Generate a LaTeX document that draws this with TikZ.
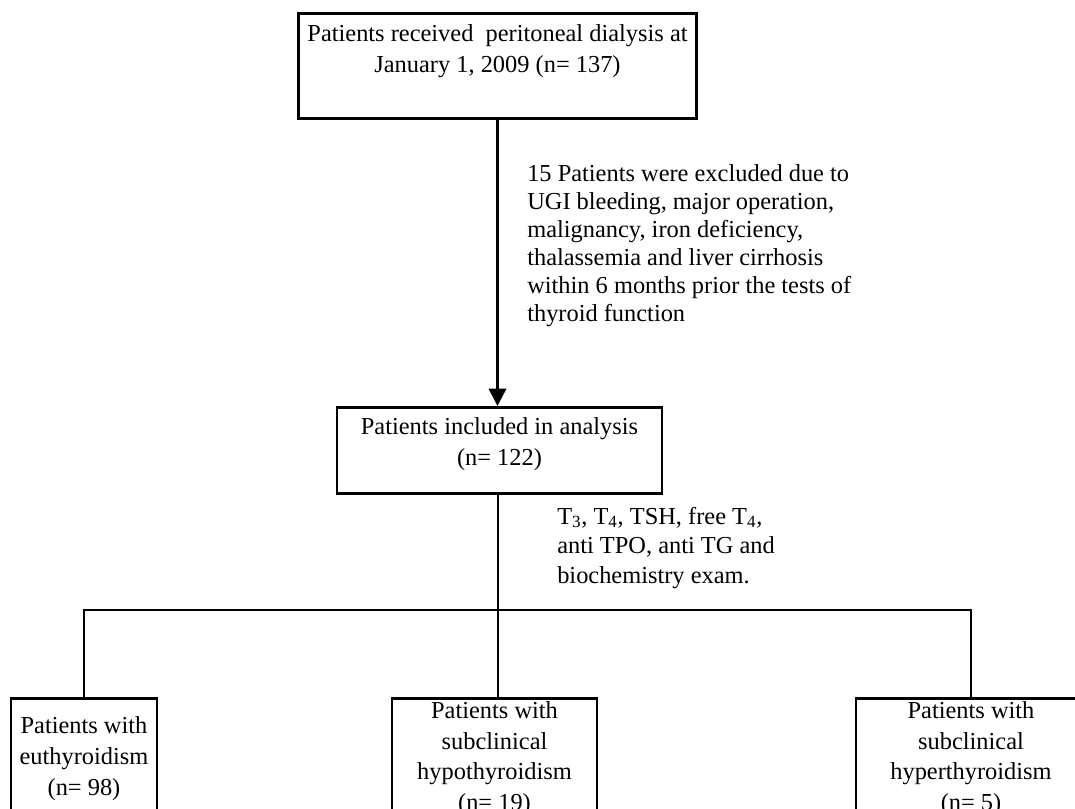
\documentclass[tikz,border=0pt]{standalone}
\usepackage{fontspec}
\setmainfont{Liberation Serif}
\usetikzlibrary{arrows.meta}

\begin{document}
\begin{tikzpicture}[x=0.75pt, y=-0.75pt,
        box/.style={draw, line width=2.2pt, align=center, inner sep=0pt, anchor=north, font=\fontsize{18.3pt}{23pt}\selectfont},
        note/.style={align=left, inner sep=0pt, anchor=north west, font=\fontsize{18.3pt}{21pt}\selectfont},
        link/.style={line width=1.9pt}]
            \useasboundingbox (0,0) rectangle (1075,809);

            \node[box, minimum width=299pt, minimum height=79pt] (start) at (497.5,12) {Patients received\ \ peritoneal dialysis at\\January 1, 2009 (n= 137)\\[-4pt] \strut};
            \node[box, minimum width=243.75pt, minimum height=64.5pt] (incl) at (499.5,406) {Patients included in analysis\\(n= 122)\\[-17pt] \strut};

            \node[box, minimum width=109.5pt, minimum height=90pt] (eu) at (84,697) {Patients with\\euthyroidism\\(n= 98)};
            \node[box, minimum width=153.75pt, minimum height=90pt] (hypo) at (494.5,697) {Patients with\\subclinical\\hypothyroidism\\(n= 19)};
            \node[box, minimum width=172.5pt, minimum height=90pt] (hyper) at (971,697) {Patients with\\subclinical\\hyperthyroidism\\(n= 5)};

            \node[note] (excl) at (527,164) {15 Patients were excluded due to\\UGI bleeding, major operation,\\malignancy, iron deficiency,\\thalassemia and liver cirrhosis\\within 6 months prior the tests of\\thyroid function};
            \node[note, font=\fontsize{18.3pt}{22pt}\selectfont] (tests) at (557,507) {T\textsubscript{3}, T\textsubscript{4}, TSH, free T\textsubscript{4},\\anti TPO, anti TG and\\biochemistry exam.};

            \coordinate (split) at (498,610);

            \draw[link, -{Triangle[width=13pt, length=13pt]}] (start.south) -- (start.south |- incl.north);
            \draw[link] (incl.south -| split) -- (split);
            \draw[link] (eu.north) |- (split) -| (hyper.north);
            \draw[link] (split) -- (split |- hypo.north);
        \end{tikzpicture}
\end{document}
